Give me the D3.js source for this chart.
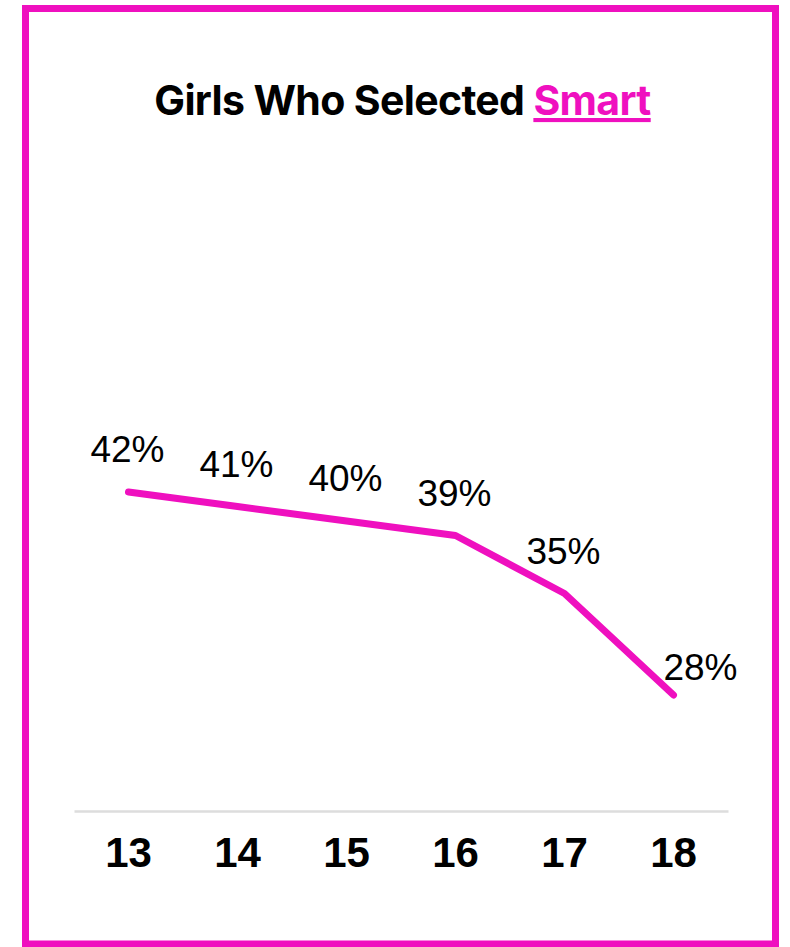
<!DOCTYPE html>
<html>
<head>
<meta charset="utf-8">
<script src="https://cdn.jsdelivr.net/npm/d3@7"></script>
<style>
  body { margin: 0; background: #fff; }
  svg { display: block; }
</style>
</head>
<body>
<script>
// data
var ages = ["13", "14", "15", "16", "17", "18"];
var smartPct = [42, 41, 40, 39, 35, 28];
var titleText = "Girls Who Selected ";
var titleWord = "Smart";

var width = 790, height = 947;
var pink = "#ef10bf";

var svg = d3.select("body").append("svg")
    .attr("width", width)
    .attr("height", height);

svg.append("rect")
    .attr("x", 0).attr("y", 0)
    .attr("width", width).attr("height", height)
    .attr("fill", "#fff");

// pink frame
svg.append("rect")
    .attr("x", 25.5).attr("y", 8.5)
    .attr("width", 750).attr("height", 935.5)
    .attr("fill", "none")
    .attr("stroke", pink)
    .attr("stroke-width", 7);

// title
var title = svg.append("text")
    .attr("x", 402.5)
    .attr("y", 115)
    .attr("text-anchor", "middle")
    .style("font-family", "Inter, 'Noto Sans', sans-serif")
    .style("font-weight", 700)
    .style("font-size", "41px")
    .style("letter-spacing", "-0.65px");
title.append("tspan").attr("fill", "#000").text(titleText);
title.append("tspan").attr("fill", pink)
    .style("text-decoration", "underline")
    .text(titleWord);

var x = d3.scaleBand()
    .domain(ages)
    .range([74, 728]);

var y = d3.scaleLinear()
    .domain([20, 50])
    .range([811, 376]);

var data = ages.map(function(a, i) { return { age: a, v: smartPct[i] }; });

// x axis
var xAxis = svg.append("g")
    .attr("transform", "translate(0," + y(20) + ")")
    .call(d3.axisBottom(x).tickSize(0).tickPadding(26));
xAxis.select(".domain")
    .attr("stroke", "#ddd")
    .attr("stroke-width", 2.5);
xAxis.selectAll("text")
    .attr("fill", "#000")
    .style("font-family", "'Liberation Sans', Arial, sans-serif")
    .style("font-weight", 700)
    .style("font-size", "42px")
    .attr("dy", "0.71em");

var line = d3.line()
    .x(function(d) { return x(d.age) + x.bandwidth() / 2; })
    .y(function(d) { return y(d.v); });

svg.append("path")
    .datum(data)
    .attr("d", line)
    .attr("fill", "none")
    .attr("stroke", pink)
    .attr("stroke-width", 7)
    .attr("stroke-linecap", "round")
    .attr("stroke-linejoin", "round");

// value labels, last one sits to the right
svg.selectAll(".lbl")
    .data(data)
    .enter()
    .append("text")
    .attr("class", "lbl")
    .attr("x", function(d, i) {
        return x(d.age) + x.bandwidth() / 2 + (i == data.length - 1 ? 27 : -1);
    })
    .attr("y", function(d, i) {
        return y(d.v) - (i == data.length - 1 ? 15 : 30);
    })
    .attr("text-anchor", "middle")
    .attr("fill", "#000")
    .style("font-family", "'Liberation Sans', Arial, sans-serif")
    .style("font-size", "37px")
    .text(function(d) { return d.v + "%"; });
</script>
</body>
</html>
